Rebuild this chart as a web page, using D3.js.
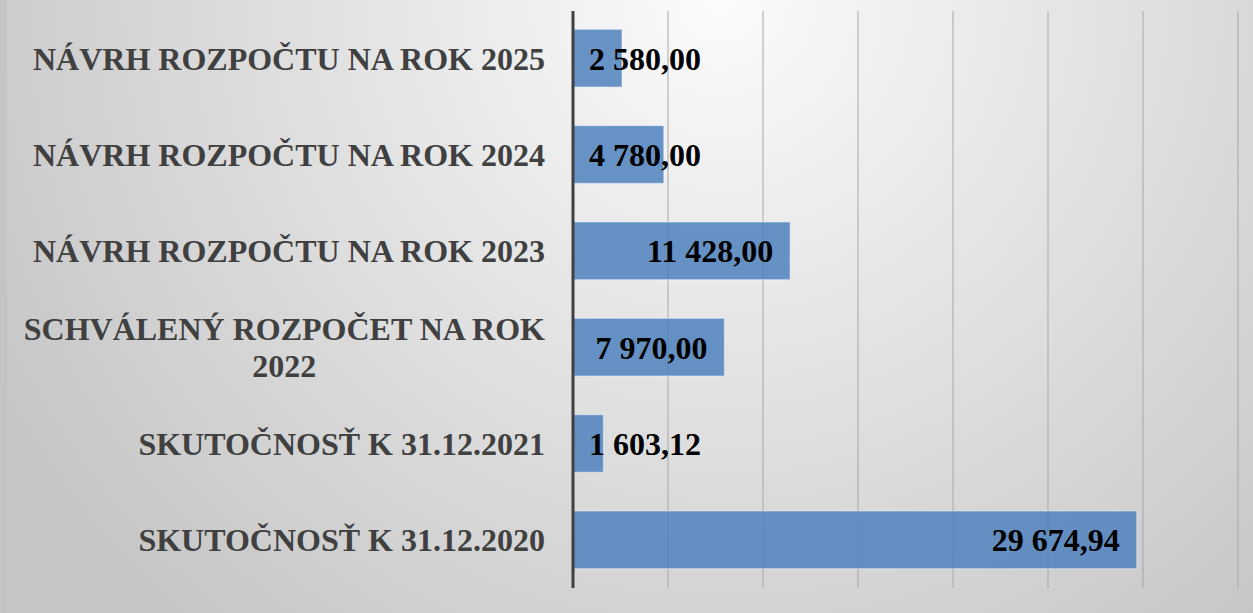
<!DOCTYPE html>
<html>
<head>
<meta charset="utf-8">
<script src="https://cdn.jsdelivr.net/npm/d3@7"></script>
<style>
  html, body { margin: 0; padding: 0; overflow: hidden; }
  svg { display: block; }
</style>
</head>
<body>
<svg id="chart"></svg>
<script>
// categories top to bottom, as shown in the picture
const categories = [
    "NÁVRH ROZPOČTU NA ROK 2025",
    "NÁVRH ROZPOČTU NA ROK 2024",
    "NÁVRH ROZPOČTU NA ROK 2023",
    "SCHVÁLENÝ ROZPOČET NA ROK 2022",
    "SKUTOČNOSŤ K 31.12.2021",
    "SKUTOČNOSŤ K 31.12.2020"
];
const values = [2580.00, 4780.00, 11428.00, 7970.00, 1603.12, 29674.94];
const xTicks = [0, 5000, 10000, 15000, 20000, 25000, 30000, 35000];

const svgWidth = 1253, svgHeight = 613;
const plot = { left: 573, right: 1238, top: 10, bottom: 588 };

const svg = d3.select("#chart")
    .attr("width", svgWidth)
    .attr("height", svgHeight);

// gray slide-like background
const defs = svg.append("defs");
const grad = defs.append("radialGradient")
    .attr("id", "bg")
    .attr("gradientUnits", "userSpaceOnUse")
    .attr("cx", 720).attr("cy", 0).attr("r", 820);
grad.append("stop").attr("offset", "0%").attr("stop-color", "#fbfbfb");
grad.append("stop").attr("offset", "100%").attr("stop-color", "#c6c6c6");

svg.append("rect")
    .attr("width", svgWidth).attr("height", svgHeight)
    .attr("fill", "url(#bg)");
svg.append("rect")
    .attr("width", 7).attr("height", svgHeight)
    .attr("fill", "#c4c4c4");

const x = d3.scaleLinear()
    .domain([0, d3.max(xTicks)])
    .range([plot.left, plot.right]);

const y = d3.scaleBand()
    .domain(categories)
    .range([plot.top, plot.bottom])
    .paddingInner(0.4)
    .paddingOuter(0.2);

const sk = d3.formatLocale({ decimal: ",", thousands: " ", grouping: [3], currency: ["", ""] });
const fmt = sk.format(",.2f");

// vertical gridlines
svg.append("g")
    .selectAll("line")
    .data(xTicks.filter(d => d > 0))
    .join("line")
    .attr("x1", d => x(d)).attr("x2", d => x(d))
    .attr("y1", plot.top + 1).attr("y2", plot.bottom)
    .attr("stroke", "#a8a8a8")
    .attr("stroke-width", 1);

const data = categories.map((c, i) => ({ cat: c, value: values[i] }));

// bars
svg.append("g")
    .selectAll("rect")
    .data(data)
    .join("rect")
    .attr("x", x(0))
    .attr("y", d => y(d.cat))
    .attr("width", d => x(d.value) - x(0))
    .attr("height", y.bandwidth())
    .attr("fill", "#4f81bd")
    .attr("fill-opacity", 0.85)
    .attr("stroke", "#ffffff")
    .attr("stroke-opacity", 0.45)
    .attr("stroke-width", 1.2);

// value axis line
svg.append("line")
    .attr("x1", x(0)).attr("x2", x(0))
    .attr("y1", plot.top + 1).attr("y2", plot.bottom)
    .attr("stroke", "#404040")
    .attr("stroke-width", 3);

// value labels: inside end, pushed right if they don't fit
const valueLabels = svg.append("g")
    .selectAll("text")
    .data(data)
    .join("text")
    .attr("font-family", "'Liberation Serif', 'Times New Roman', serif")
    .attr("font-weight", "bold")
    .attr("font-size", 32)
    .attr("fill", "#000")
    .attr("text-anchor", "end")
    .attr("y", d => y(d.cat) + y.bandwidth() / 2)
    .attr("dy", "0.36em")
    .text(d => fmt(d.value));

valueLabels.attr("x", function (d) {
    const w = this.getComputedTextLength();
    return Math.max(x(d.value) - 17, x(0) + 16 + w);
});

// category labels, wrapped when too long, block right aligned
const labelRight = 545, maxWidth = 530, lineHeight = 37;
const catGroup = svg.append("g");

data.forEach(d => {
    const t = catGroup.append("text")
        .attr("font-family", "'Liberation Serif', 'Times New Roman', serif")
        .attr("font-weight", "bold")
        .attr("font-size", 32)
        .attr("fill", "#404040")
        .attr("text-anchor", "middle");

    // build lines word by word
    const words = d.cat.split(" ");
    let lines = [], line = [];
    const probe = t.append("tspan");
    words.forEach(w => {
        line.push(w);
        probe.text(line.join(" "));
        if (probe.node().getComputedTextLength() > maxWidth && line.length > 1) {
            line.pop();
            lines.push(line.join(" "));
            line = [w];
        }
    });
    lines.push(line.join(" "));
    probe.remove();

    const widths = lines.map(l => {
        const s = t.append("tspan").text(l);
        const w = s.node().getComputedTextLength();
        s.remove();
        return w;
    });
    const blockW = d3.max(widths);
    const cx = labelRight - blockW / 2;
    const cy = y(d.cat) + y.bandwidth() / 2;
    const firstY = cy - (lines.length - 1) * lineHeight / 2;

    lines.forEach((l, i) => {
        t.append("tspan")
            .attr("x", cx)
            .attr("y", firstY + i * lineHeight)
            .attr("dy", "0.36em")
            .text(l);
    });
});
</script>
</body>
</html>
